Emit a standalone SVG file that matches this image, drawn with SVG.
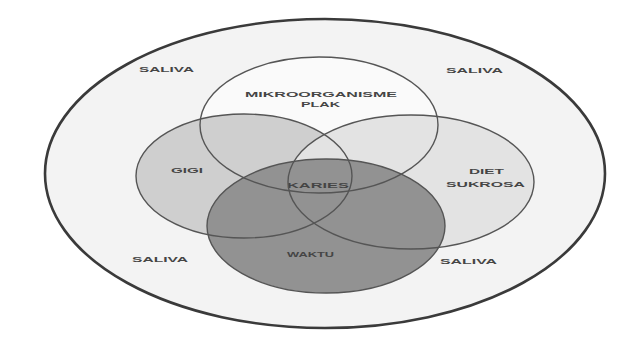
<svg xmlns="http://www.w3.org/2000/svg" width="625" height="340" viewBox="0 0 625 340">
  <style>
    .lbl { font-family: "Liberation Sans", Arial, sans-serif; font-weight: bold; font-size: 7.5px; fill: #454545; }
    .ln { fill: none; stroke: #555; stroke-width: 1.4; }
  </style>
  <rect width="625" height="340" fill="#ffffff"/>
  <g id="saliva">
    <ellipse cx="325" cy="173.5" rx="280" ry="154.5" fill="#f3f3f3" stroke="#3a3a3a" stroke-width="2.6"/>
    <text class="lbl" x="139" y="72" textLength="55" lengthAdjust="spacingAndGlyphs">SALIVA</text>
    <text class="lbl" x="446" y="73" textLength="57" lengthAdjust="spacingAndGlyphs">SALIVA</text>
    <text class="lbl" x="132" y="262" textLength="56" lengthAdjust="spacingAndGlyphs">SALIVA</text>
    <text class="lbl" x="440" y="264" textLength="57" lengthAdjust="spacingAndGlyphs">SALIVA</text>
  </g>
  <g id="mikroorganisme">
    <ellipse cx="319" cy="125" rx="119" ry="68" fill="#fafafa"/>
    <text class="lbl" x="245" y="97" textLength="152" lengthAdjust="spacingAndGlyphs">MIKROORGANISME</text>
    <text class="lbl" x="301" y="107" textLength="39" lengthAdjust="spacingAndGlyphs">PLAK</text>
  </g>
  <g id="gigi">
    <ellipse cx="244" cy="176" rx="108" ry="62" fill="#cfcfcf"/>
    <text class="lbl" x="171" y="173" textLength="32" lengthAdjust="spacingAndGlyphs">GIGI</text>
  </g>
  <g id="diet">
    <ellipse cx="411" cy="182" rx="123" ry="67" fill="#e3e3e3"/>
    <text class="lbl" x="469" y="174" textLength="35" lengthAdjust="spacingAndGlyphs">DIET</text>
    <text class="lbl" x="446" y="187" textLength="79" lengthAdjust="spacingAndGlyphs">SUKROSA</text>
  </g>
  <g id="waktu">
    <ellipse cx="326" cy="226" rx="119" ry="67" fill="#929292"/>
    <text class="lbl" x="287" y="257" textLength="47" lengthAdjust="spacingAndGlyphs">WAKTU</text>
  </g>
  <g id="karies">
    <text class="lbl" x="287" y="188" textLength="62" lengthAdjust="spacingAndGlyphs">KARIES</text>
  </g>
  <g id="outlines">
    <ellipse class="ln" cx="319" cy="125" rx="119" ry="68" stroke="#7a7a7a" stroke-width="1.2"/>
    <ellipse class="ln" cx="244" cy="176" rx="108" ry="62"/>
    <ellipse class="ln" cx="411" cy="182" rx="123" ry="67"/>
    <ellipse class="ln" cx="326" cy="226" rx="119" ry="67"/>
  </g>
</svg>
